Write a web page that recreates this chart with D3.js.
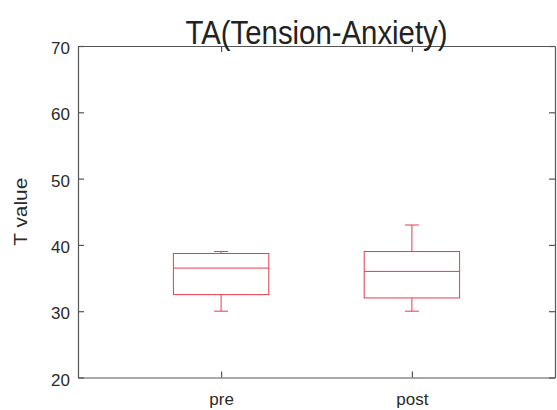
<!DOCTYPE html>
<html>
<head>
<meta charset="utf-8">
<script src="https://cdn.jsdelivr.net/npm/d3@7"></script>
<style>
  body { margin: 0; background: #fff; }
  svg { display: block; font-family: "Liberation Sans", Arial, sans-serif; }
</style>
</head>
<body>
<div id="chart"></div>
<script>
// box plot stats
const groups = ['pre', 'post'];
const mins = [30, 30];
const q1s = [32.5, 32];
const medians = [36.5, 36];
const q3s = [38.7, 39];
const maxs = [39, 43];
const yTicks = [20, 30, 40, 50, 60, 70];

const width = 557, height = 410;
const margin = { top: 46, right: 2, bottom: 32.5, left: 78 };

const svg = d3.select('#chart').append('svg')
  .attr('width', width)
  .attr('height', height);

const x = d3.scaleLinear()
  .domain([0.25, 2.75])
  .range([margin.left, width - margin.right]);

const y = d3.scaleLinear()
  .domain([20, 70])
  .range([height - margin.bottom, margin.top]);

const axisColor = '#555';
const boxColor = '#e63b4b';

// frame axes, ticks point inward like the original
const leftAxis = svg.append('g')
  .attr('transform', `translate(${margin.left},0)`)
  .call(d3.axisLeft(y).tickValues(yTicks).tickSizeInner(-6).tickSizeOuter(0).tickPadding(8));

const rightAxis = svg.append('g')
  .attr('transform', `translate(${width - margin.right},0)`)
  .call(d3.axisRight(y).tickValues(yTicks).tickSizeInner(-6).tickSizeOuter(0).tickFormat(''));

const bottomAxis = svg.append('g')
  .attr('transform', `translate(0,${height - margin.bottom})`)
  .call(d3.axisBottom(x).tickValues([1, 2]).tickSizeInner(-6).tickSizeOuter(0).tickPadding(15)
    .tickFormat(d => groups[d - 1]));

const topAxis = svg.append('g')
  .attr('transform', `translate(0,${margin.top})`)
  .call(d3.axisTop(x).tickValues([1, 2]).tickSizeInner(-6).tickSizeOuter(0).tickFormat(''));

[leftAxis, rightAxis, bottomAxis, topAxis].forEach(g => {
  g.selectAll('path, line').attr('stroke', axisColor).attr('stroke-width', 1.2);
  g.selectAll('text').attr('fill', '#2a2a2a').style('font-size', '17px');
});
leftAxis.selectAll('text').attr('dy', '0.62em').attr('y', -3);

// boxes
const stats = groups.map((g, i) => ({
  pos: i + 1, min: mins[i], q1: q1s[i], med: medians[i], q3: q3s[i], max: maxs[i]
}));
const boxW = x(1.25) - x(1);
const capW = 7;

const box = svg.append('g').selectAll('g')
  .data(stats)
  .enter().append('g')
    .attr('fill', 'none')
    .attr('stroke', boxColor)
    .attr('stroke-width', 1);

box.append('line')
  .attr('x1', d => x(d.pos)).attr('x2', d => x(d.pos))
  .attr('y1', d => y(d.max)).attr('y2', d => y(d.q3));
box.append('line')
  .attr('x1', d => x(d.pos)).attr('x2', d => x(d.pos))
  .attr('y1', d => y(d.q1)).attr('y2', d => y(d.min));
box.append('line')
  .attr('x1', d => x(d.pos) - capW).attr('x2', d => x(d.pos) + capW)
  .attr('y1', d => y(d.max)).attr('y2', d => y(d.max));
box.append('line')
  .attr('x1', d => x(d.pos) - capW).attr('x2', d => x(d.pos) + capW)
  .attr('y1', d => y(d.min)).attr('y2', d => y(d.min));
box.append('rect')
  .attr('x', d => x(d.pos) - boxW)
  .attr('width', 2 * boxW)
  .attr('y', d => y(d.q3))
  .attr('height', d => y(d.q1) - y(d.q3));
box.append('line')
  .attr('x1', d => x(d.pos) - boxW).attr('x2', d => x(d.pos) + boxW)
  .attr('y1', d => y(d.med)).attr('y2', d => y(d.med));

// title and y label
svg.append('text')
  .attr('x', (margin.left + width - margin.right) / 2)
  .attr('y', 44)
  .attr('text-anchor', 'middle')
  .attr('textLength', 262)
  .attr('lengthAdjust', 'spacingAndGlyphs')
  .style('font-size', '34px')
  .attr('fill', '#222')
  .text('TA(Tension-Anxiety)');

svg.append('text')
  .attr('transform', `translate(27,${(margin.top + height - margin.bottom) / 2}) rotate(-90)`)
  .attr('text-anchor', 'middle')
  .attr('textLength', 68)
  .attr('lengthAdjust', 'spacingAndGlyphs')
  .style('font-size', '18px')
  .attr('fill', '#2a2a2a')
  .text('T value');
</script>
</body>
</html>
